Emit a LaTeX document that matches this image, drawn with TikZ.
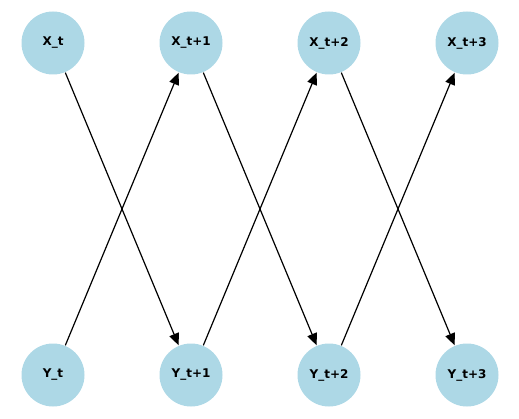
\documentclass[tikz,border=0pt]{standalone}
\usepackage{fontspec}
\setmainfont{DejaVu Sans}
\usetikzlibrary{arrows.meta}
\definecolor{nodeblue}{RGB}{173,216,230}

\begin{document}
\begin{tikzpicture}[x=1pt,y=-1pt,line width=1.2pt,
  var/.style={circle,fill=nodeblue,minimum size=63pt,inner sep=0pt,
    font=\fontsize{12}{14}\selectfont\bfseries},
  link/.style={-{Triangle[length=12pt,width=10pt]}}]
\useasboundingbox (0,0) rectangle (519,419);
% ---------- time slices ----------
\node[var] (x0) at (53,43)  {X\_t};
\node[var] (x1) at (191,43) {X\_t+1};
\node[var] (x2) at (329,43) {X\_t+2};
\node[var] (x3) at (467,43) {X\_t+3};
\node[var] (y0) at (53,375)  {Y\_t};
\node[var] (y1) at (191,375) {Y\_t+1};
\node[var] (y2) at (329,375) {Y\_t+2};
\node[var] (y3) at (467,375) {Y\_t+3};
% ---------- cross links ----------
\draw[link] (x0) -- (y1);
\draw[link] (y0) -- (x1);
\draw[link] (x1) -- (y2);
\draw[link] (y1) -- (x2);
\draw[link] (x2) -- (y3);
\draw[link] (y2) -- (x3);
\end{tikzpicture}
\end{document}
